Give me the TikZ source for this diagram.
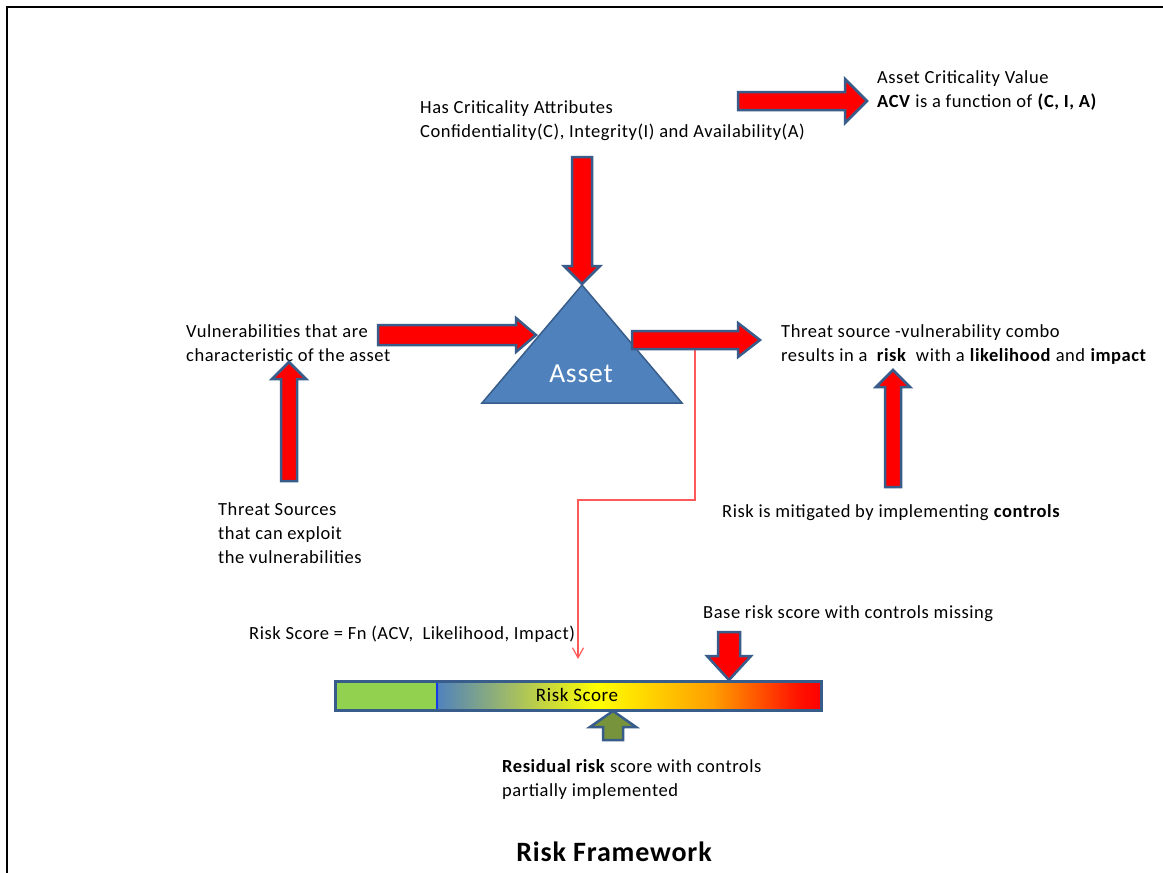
\documentclass[tikz,border=0pt]{standalone}
\usepackage{fontspec}
\setmainfont{Carlito}[LetterSpace=3]
\usetikzlibrary{arrows.meta}
\definecolor{arrowred}{RGB}{255,0,0}
\definecolor{edgeblue}{RGB}{56,93,138}
\definecolor{assetblue}{RGB}{79,129,189}
\definecolor{bargreen}{RGB}{146,208,80}
\definecolor{arrowolive}{RGB}{119,147,60}
\definecolor{thinred}{RGB}{255,90,90}
\definecolor{sepblue}{RGB}{20,60,230}
\pgfdeclarehorizontalshading{riskshade}{100bp}{rgb(0bp)=(0.31,0.51,0.74); rgb(25bp)=(0.31,0.51,0.74); rgb(46bp)=(1,1,0); rgb(61bp)=(1,0.62,0); rgb(72bp)=(1,0.08,0); rgb(75bp)=(1,0,0); rgb(100bp)=(1,0,0)}
\tikzset{
  blockarrow/.style={fill=arrowred, draw=edgeblue, line width=2.5, line join=miter},
  txt/.style={anchor=base west, inner sep=0, align=left},
}
\newcommand\ArrR[6]{\draw[blockarrow] (#1,#3-#4) -- (#2-#6,#3-#4) -- (#2-#6,#3-#5) -- (#2,#3) -- (#2-#6,#3+#5) -- (#2-#6,#3+#4) -- (#1,#3+#4) -- cycle;}
\newcommand\ArrD[6]{\draw[blockarrow] (#1-#4,#2) -- (#1-#4,#3-#6) -- (#1-#5,#3-#6) -- (#1,#3) -- (#1+#5,#3-#6) -- (#1+#4,#3-#6) -- (#1+#4,#2) -- cycle;}
\newcommand\ArrU[6]{\draw[blockarrow] (#1-#4,#2) -- (#1-#4,#3+#6) -- (#1-#5,#3+#6) -- (#1,#3) -- (#1+#5,#3+#6) -- (#1+#4,#3+#6) -- (#1+#4,#2) -- cycle;}
\begin{document}
\begin{tikzpicture}[x=1pt, y=-1pt, font=\fontsize{18.5}{24}\selectfont]
\useasboundingbox (0,0) rectangle (1163,873);
\fill[white] (0,0) rectangle (1163,873);
% frame
\draw[line width=2] (7,873) -- (7,7) -- (1163,7);

% texts (anchor = baseline of the last line)
\node[txt] (acv) at (877,107) {Asset Criticality Value\\\textbf{ACV} is a function of \textbf{(C, I, A)}};
\node[txt] (attr) at (420,137) {Has Criticality Attributes\\Confidentiality(C), Integrity(I) and Availability(A)};
\node[txt] (vuln) at (186,361) {Vulnerabilities that are\\characteristic of the asset};
\node[txt] (combo) at (781,361) {Threat source -vulnerability combo\\results in a \ \textbf{risk} \ with a \textbf{likelihood} and \textbf{impact}};
\node[txt] (threat) at (218,563) {Threat Sources\\that can exploit\\the vulnerabilities};
\node[txt] (mitig) at (722,517) {Risk is mitigated by implementing \textbf{controls}};
\node[txt] (fn) at (249,639) {Risk Score = Fn (ACV, \ Likelihood, Impact)};
\node[txt] (base) at (703,618) {Base risk score with controls missing};
\node[txt] (resid) at (502,796) {\textbf{Residual risk} score with controls\\partially implemented};
\node[anchor=base, inner sep=0, font=\fontsize{28}{32}\selectfont\bfseries] (title) at (614,861) {Risk Framework};

% thin red connector
\coordinate (tap) at (695,345);
\coordinate (bend) at (578,500);
\coordinate (rsin) at (578,659);
\draw[thinred, line width=1.2, -{Straight Barb[length=10pt,width=11pt]}] (tap) |- (bend) -- (rsin);

% asset triangle
\draw[fill=assetblue, draw=edgeblue, line width=1.5, line join=miter] (482,403) -- (682,403) -- (582,285) -- cycle;
\node[text=white, font=\fontsize{27.5}{30}\selectfont] (asset) at (581,374) {Asset};

% block arrows
\ArrR{738}{867}{101}{9}{22}{22}
\ArrD{582}{157}{284}{10}{18}{18}
\ArrR{378}{536}{335}{10}{17}{20}
\ArrR{632}{760}{340}{9}{17}{22}
\ArrU{289}{481}{362}{8}{17}{17}
\ArrU{893}{487}{370}{8}{17}{17}
\ArrD{729}{632}{680}{11}{22}{24}
\begin{scope}
\tikzset{blockarrow/.append style={fill=arrowolive}}
\ArrU{613}{740}{711}{10}{23}{16}
\end{scope}

% risk score bar
\fill[shading=riskshade] (437,680) rectangle (820,709);
\fill[bargreen] (334,680) rectangle (437,709);
\draw[sepblue, line width=1.5] (437,680) -- (437,709);
\node[draw=edgeblue, line width=2.5, minimum width=486, minimum height=29, anchor=north west, inner sep=0] (bar) at (334,680) {};
\node[font=\fontsize{19}{24}\selectfont] (rs) at (577,695) {Risk Score};
\end{tikzpicture}
\end{document}
